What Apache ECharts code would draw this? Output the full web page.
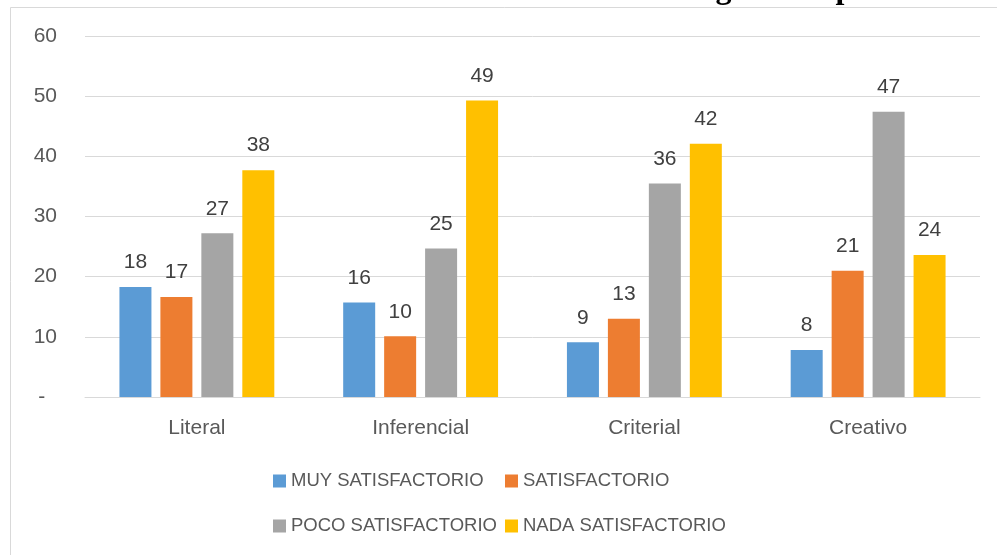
<!DOCTYPE html>
<html>
<head>
<meta charset="utf-8">
<script src="https://cdn.jsdelivr.net/npm/echarts@6/dist/echarts.min.js"></script>
<style>html,body{margin:0;padding:0;background:#fff}#c{width:997px;height:555px}</style>
</head>
<body>
<div id="c"></div>
<script>
const categories = ['Literal', 'Inferencial', 'Criterial', 'Creativo'];
const seriesNames = ['MUY SATISFACTORIO', 'SATISFACTORIO', 'POCO SATISFACTORIO', 'NADA SATISFACTORIO'];
const muySatisfactorio = [18.3, 15.7, 9.1, 7.8];
const satisfactorio = [16.6, 10.1, 13.0, 21.0];
const pocoSatisfactorio = [27.2, 24.7, 35.5, 47.4];
const nadaSatisfactorio = [37.7, 49.3, 42.1, 23.6];
const yTicks = [0, 10, 20, 30, 40, 50, 60];
const titleText = 'Tabla de los resultados obtenidos del Test de Diagnóstico por Niveles';

const colors = ['#5B9BD5', '#ED7D31', '#A5A5A5', '#FFC000'];
const values = [muySatisfactorio, satisfactorio, pocoSatisfactorio, nadaSatisfactorio];
const FONT = 'Liberation Sans';

const chart = echarts.init(document.getElementById('c'), null, {renderer: 'canvas'});
chart.setOption({
  backgroundColor: '#ffffff',
  animation: false,
  color: colors,
  graphic: [
    {type: 'rect', shape: {x: 10.5, y: 7.5, width: 1100, height: 700},
     style: {fill: null, stroke: '#d9d9d9', lineWidth: 1}, z: 0},
    {type: 'text', x: 57, y: -10,
     style: {text: titleText, font: 'bold 32px "Liberation Serif"', fill: '#000',
             align: 'left', verticalAlign: 'middle'}, z: 10}
  ],
  grid: {left: 85, right: 17, top: 36, bottom: 158},
  xAxis: {
    type: 'category', data: categories,
    axisLine: {lineStyle: {color: '#d9d9d9', width: 1}},
    axisTick: {show: false},
    axisLabel: {color: '#595959', fontSize: 21, fontFamily: FONT, margin: 21}
  },
  yAxis: {
    type: 'value', min: yTicks[0], max: yTicks[yTicks.length - 1], interval: 10,
    axisLine: {show: false}, axisTick: {show: false},
    splitLine: {lineStyle: {color: '#d9d9d9', width: 1}},
    axisLabel: {color: '#595959', fontSize: 21, fontFamily: FONT, margin: 28,
      formatter: v => v === 0 ? '-  ' : String(v)}
  },
  legend: [
    {data: [seriesNames[0], seriesNames[2]], orient: 'vertical', left: 273, top: 471,
     padding: 0, itemWidth: 13, itemHeight: 13, itemGap: 25, icon: 'rect',
     textStyle: {color: '#595959', fontSize: 18.5, fontFamily: FONT, lineHeight: 20}},
    {data: [seriesNames[1], seriesNames[3]], orient: 'vertical', left: 505, top: 471,
     padding: 0, itemWidth: 13, itemHeight: 13, itemGap: 25, icon: 'rect',
     textStyle: {color: '#595959', fontSize: 18.5, fontFamily: FONT, lineHeight: 20}}
  ],
  series: seriesNames.map((name, i) => ({
    name: name, type: 'bar', data: values[i],
    barWidth: 32, barGap: '28%',
    itemStyle: {color: colors[i]},
    label: {show: true, position: 'top', distance: 14, color: '#404040',
      fontSize: 21, fontFamily: FONT, formatter: p => Math.round(p.value)}
  }))
});
</script>
</body>
</html>
